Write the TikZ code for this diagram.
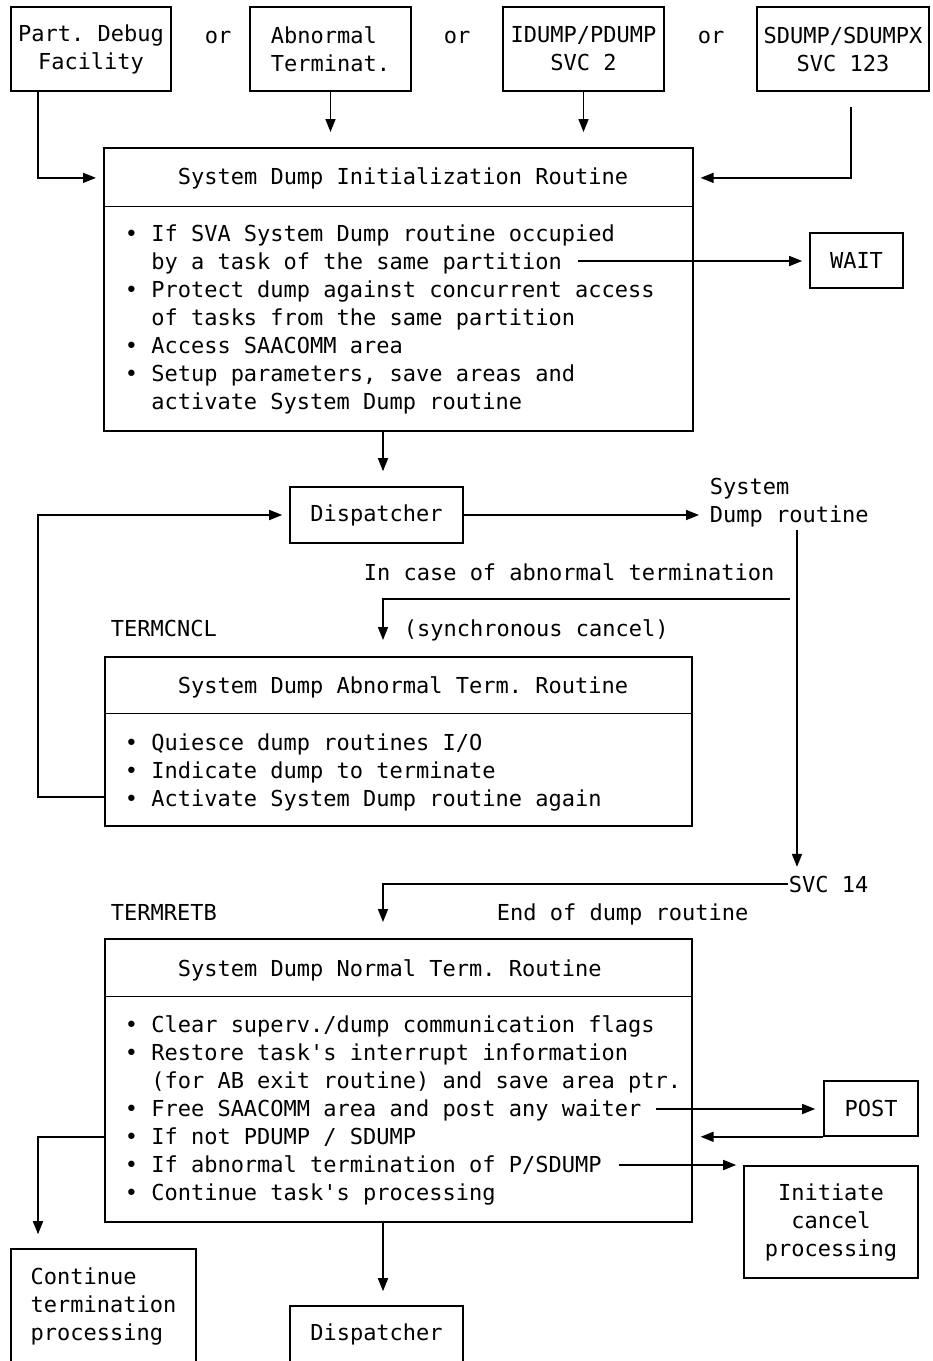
\documentclass[tikz,border=0pt]{standalone}
\usepackage{fontspec}
\setmonofont{DejaVu Sans Mono}
\usetikzlibrary{arrows.meta}
\newcommand\topstrut{\rule{0pt}{20pt}}

\begin{document}
\begin{tikzpicture}[x=1pt,y=-1pt,line width=1.6pt,
    font=\ttfamily\fontsize{22}{28}\selectfont,
    box/.style={draw,inner sep=2pt,align=center},
    head/.style={anchor=north west,inner sep=0pt,minimum width=587pt},
    lbl/.style={anchor=base west,inner sep=0pt},
    list/.style={anchor=north west,inner sep=0pt,align=left},
    arr/.style={-{Triangle[length=13pt,width=10pt]},shorten >=#1},
    arr/.default=7pt]
  \useasboundingbox (0,0) rectangle (933,1361);
  \clip (0,0) rectangle (933,1361);

  % callers
  \node[box,minimum width=160pt,minimum height=84pt] (pdf) at (91,49) {Part. Debug\\Facility};
  \node[box,align=left,minimum width=161pt,minimum height=84pt] (abt) at (330.5,49) {Abnormal\\Terminat.};
  \node[box,minimum width=161pt,minimum height=84pt] (idp) at (583.5,49) {IDUMP/PDUMP\\SVC 2};
  \node[box,minimum width=172pt,minimum height=84pt] (sdp) at (843,49) {SDUMP/SDUMPX\\SVC 123};
  \foreach \x [count=\i] in {218,457,711}
    \node[lbl,anchor=base] (or\i) at (\x,43) {or};

  \coordinate (lp) at (38,0);
  \coordinate (col) at (383,0);
  \coordinate (sx) at (851,0);

  % initialization routine
  \node[box,anchor=north west,minimum width=589pt,minimum height=283pt] (init) at (103,147) {};
  \node[head,minimum height=58pt] (initH) at (init.north west) {};
  \draw (initH.south west) -- (initH.south -| init.east);
  \node[lbl] (initT) at (177,184) {System Dump Initialization Routine};
  \node[list] (initL) at (124,221) {\topstrut• If SVA System Dump routine occupied\\
    \ \ by a task of the same partition\\
    • Protect dump against concurrent access\\
    \ \ of tasks from the same partition\\
    • Access SAACOMM area\\
    • Setup parameters, save areas and\\
    \ \ activate System Dump routine};
  \node[box,minimum width=93pt,minimum height=55pt] (wait) at (856.5,260.5) {WAIT};
  \coordinate (w1) at (578,261);

  \draw[arr] (pdf.south -| lp) |- (init.west |- initT);
  \draw[arr=15pt] (abt.south) -- (abt.south |- init.north);
  \draw[arr=15pt] (idp.south) -- (idp.south |- init.north);
  \draw[arr,shorten <=15pt] (sdp.south -| sx) |- (init.east |- initT);
  \draw[arr] (w1) -- (w1 -| wait.west);

  % dispatcher and dump routine
  \node[box,minimum width=173pt,minimum height=56pt] (disp) at (376.5,515) {Dispatcher};
  \node[anchor=west,inner sep=0pt,align=left] (sdr) at (709,503) {System\\Dump routine};
  \coordinate (dtop) at (797,530);
  \draw[arr=15pt] (init.south -| col) -- (disp.north -| col);
  \draw[arr=10pt] (disp.east) -- (disp.east -| sdr.west);

  \node[lbl] (cse) at (363,580) {In case of abnormal termination};
  \node[lbl] (sync) at (403,636) {(synchronous cancel)};
  \node[lbl] (tc) at (110,636) {TERMCNCL};
  \coordinate (c1) at (790,599);

  % abnormal termination routine
  \node[box,anchor=north west,minimum width=587pt,minimum height=169pt] (abn) at (104,656) {};
  \node[head,minimum height=56pt] (abnH) at (abn.north west) {};
  \draw (abnH.south west) -- (abnH.south east);
  \node[lbl] (abnT) at (177,693) {System Dump Abnormal Term. Routine};
  \node[list] (abnL) at (124,730) {\topstrut• Quiesce dump routines I/O\\
    • Indicate dump to terminate\\
    • Activate System Dump routine again};
  \coordinate (r3) at (0,797);
  \draw[arr=16pt] (c1) -| (abn.north -| col);
  \draw[arr] (abn.west |- r3) -| (lp |- disp) -- (disp.west);

  \node[lbl] (svc) at (788,892) {SVC 14};
  \node[lbl] (tr) at (110,920) {TERMRETB};
  \node[lbl] (eod) at (496,920) {End of dump routine};
  \draw[arr=8pt] (dtop) -- (dtop |- svc.north);

  % normal termination routine
  \node[box,anchor=north west,minimum width=587pt,minimum height=283pt] (nrm) at (104,938) {};
  \node[head,minimum height=57pt] (nrmH) at (nrm.north west) {};
  \draw (nrmH.south west) -- (nrmH.south east);
  \node[lbl] (nrmT) at (177,976) {System Dump Normal Term. Routine};
  \node[list] (nrmL) at (124,1012) {\topstrut• Clear superv./dump communication flags\\
    • Restore task's interrupt information\\
    \ \ (for AB exit routine) and save area ptr.\\
    • Free SAACOMM area and post any waiter\\
    • If not PDUMP / SDUMP\\
    • If abnormal termination of P/SDUMP\\
    • Continue task's processing};
  \draw[arr=16pt] (svc.west) -| (nrm.north -| col);

  \node[box,minimum width=94pt,minimum height=55pt] (post) at (871,1108.5) {POST};
  \node[box,minimum width=174pt,minimum height=112pt] (ini) at (831,1222) {Initiate\\cancel\\processing};
  \node[box,align=left,minimum width=185pt,minimum height=114pt] (cont) at (103.5,1306) {Continue\\termination\\processing};
  \node[box,minimum width=173pt,minimum height=56pt] (disp2) at (376.5,1334) {Dispatcher};
  \coordinate (p1) at (656,1109);
  \coordinate (i1) at (619,1165);
  \coordinate (r5) at (0,1137);

  \draw[arr=8pt] (p1) -- (p1 -| post.west);
  \draw[arr=8pt] (post.south west) -- (post.south west -| nrm.east);
  \draw[arr] (i1) -- (i1 -| ini.west);
  \draw[arr=14pt] (nrm.west |- r5) -| (cont.north -| lp);
  \draw[arr=14pt] (nrm.south -| col) -- (disp2.north -| col);
\end{tikzpicture}
\end{document}
